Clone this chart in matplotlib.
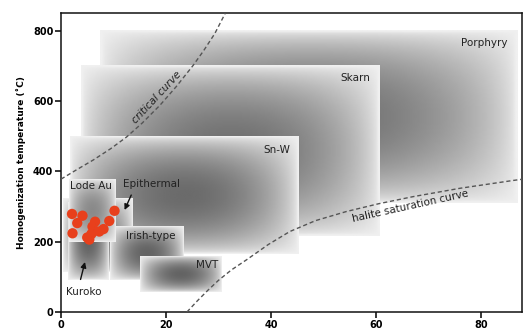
"""Fluid inclusion homogenization temperature vs salinity by deposit type
"""

import matplotlib
matplotlib.use("Agg")
import matplotlib.pyplot as plt
import numpy as np

# Deposit fields (salinity wt% NaCl eq., homogenization temperature in C)
deposit_names = ["Porphyry", "Skarn", "Sn-W", "Epithermal", "Irish-type",
                 "MVT", "Kuroko", "Lode Au"]
sal_min = [7.5, 3.8, 1.8, 0.4, 9.3, 15.0, 1.3, 1.5]
sal_max = [87.0, 60.6, 45.3, 13.7, 23.3, 30.6, 9.0, 10.3]
th_min = [310, 215, 165, 115, 90, 58, 90, 200]
th_max = [800, 700, 500, 325, 242, 160, 310, 378]
field_depth = [0.5, 0.5, 0.52, 0.45, 0.55, 0.55, 0.55, 0.4]

# Measured inclusions (red dots)
incl_salinity = [2.1, 4.1, 3.1, 6.5, 6.0, 10.2, 9.2, 2.2, 8.1, 7.3, 5.8, 5.0, 5.4]
incl_th = [279, 274, 253, 257, 243, 288, 259, 224, 236, 229, 222, 212, 206]

# Reference curves
critical_sal = [0, 3, 6.2, 9.5, 12.5, 15.5, 18.9, 22, 25.2, 27.2, 29.3, 31.3]
critical_th = [378, 405, 433, 465, 498, 538, 589, 642, 702, 744, 792, 850]
halite_sal = [24, 26, 28, 30, 32.5, 35.4, 39.5, 43.6, 48.5, 54.4, 60.5, 67, 76, 86, 88]
halite_th = [0, 32, 62, 90, 120, 149, 192, 229, 260, 286, 308, 328, 352, 374, 378]


def shaded_box(ax, x0, x1, y0, y1, zorder, depth=0.5):
    # soft grey field, dark in the middle and pale at the rim
    tx = np.linspace(0, 1, 120)
    ty = np.linspace(0, 1, 80)
    bx = np.sin(np.pi * tx) ** 0.6
    by = np.sin(np.pi * ty) ** 0.6
    img = 0.94 - depth * np.outer(by, bx)
    ax.imshow(img, cmap="gray", vmin=0, vmax=1, extent=(x0, x1, y0, y1),
              origin="lower", aspect="auto", interpolation="bilinear",
              zorder=zorder)


fig = plt.figure(figsize=(5.23, 3.32), dpi=100)
ax = fig.add_axes([0.1166, 0.0602, 0.881, 0.8998])

for i, name in enumerate(deposit_names):
    shaded_box(ax, sal_min[i], sal_max[i], th_min[i], th_max[i],
               zorder=1 + i * 0.1, depth=field_depth[i])

ax.plot(critical_sal, critical_th, color="#555555", lw=1.0, ls=(0, (3, 2)), zorder=3)
ax.plot(halite_sal, halite_th, color="#555555", lw=1.0, ls=(0, (3, 2)), zorder=3)

ax.scatter(incl_salinity, incl_th, s=55, color="#e8401c", edgecolors="none",
           zorder=5)

txt = dict(fontsize=7.5, color="#222222", zorder=6)
ax.text(85, 765, "Porphyry", ha="right", va="center", **txt)
ax.text(59, 665, "Skarn", ha="right", va="center", **txt)
ax.text(43.6, 461, "Sn-W", ha="right", va="center", **txt)
ax.text(1.8, 359, "Lode Au", ha="left", va="center", **txt)
ax.text(11.8, 364, "Epithermal", ha="left", va="center", **txt)
ax.text(12.4, 217, "Irish-type", ha="left", va="center", **txt)
ax.text(30, 134, "MVT", ha="right", va="center", **txt)
ax.text(1.0, 58, "Kuroko", ha="left", va="center", **txt)
ax.text(18.3, 612, "critical curve", ha="center", va="center", rotation=47,
        fontstyle="italic", **txt)
ax.text(66.5, 300, "halite saturation curve", ha="center", va="center",
        rotation=12.5, **txt)

arrow = dict(arrowstyle="-|>", color="#111111", lw=1.0, mutation_scale=8)
ax.annotate("", xy=(11.9, 283), xytext=(13.6, 340), arrowprops=arrow, zorder=6)
ax.annotate("", xy=(4.7, 150), xytext=(3.6, 85), arrowprops=arrow, zorder=6)

ax.set_xlim(0, 87.8)
ax.set_ylim(0, 850)
ax.set_xticks([0, 20, 40, 60, 80])
ax.set_yticks([0, 200, 400, 600, 800])
ax.tick_params(direction="out", length=4, width=1.1, labelsize=7, pad=1.5)
for lab in ax.get_xticklabels() + ax.get_yticklabels():
    lab.set_fontweight("bold")
for sp in ax.spines.values():
    sp.set_linewidth(1.1)
    sp.set_color("#111111")
ax.set_ylabel("Homogenization temperature (\u02daC)", fontsize=6.5, fontweight="bold",
              labelpad=5)

fig.savefig("out.png", dpi=100)
